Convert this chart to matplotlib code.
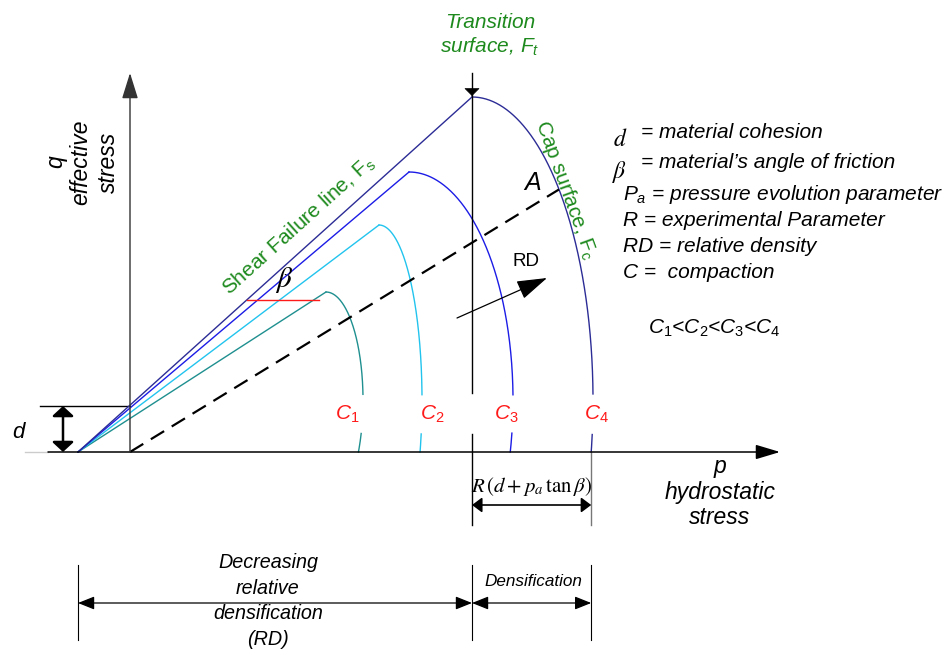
import numpy as np
import matplotlib.pyplot as plt

plt.rcParams['font.family'] = ['Liberation Sans', 'DejaVu Sans']
plt.rcParams['mathtext.fontset'] = 'custom'
plt.rcParams['mathtext.rm'] = 'Liberation Sans'
plt.rcParams['mathtext.it'] = 'Liberation Sans:italic'

# Geometrie im p-q System (Ursprung = Achsenkreuz)
shear_p0 = -52                      # Schnitt der Schergeraden mit p-Achse
cap_labels = ['$C_1$', '$C_2$', '$C_3$', '$C_4$']
apex_p = [196, 249, 279, 342]       # Übergang Scherlinie -> Kappe
apex_q = [160, 227, 280, 355]
cap_a = [37, 43, 104, 121]          # horizontale Halbachse der Kappe
cap_center_q = 52
cap_colors = ['#1f8f8f', '#22c4ee', '#1c1ce6', '#2c2c96']
cap_label_p = [217, 302, 376, 466]
gap_q = (19, 57)                    # Lücke für die C-Beschriftung
d_cohesion = 46
dash_slope = 0.612
q_axis_top = 379
p_axis_end = 650
dim_q = -53
bottom_q = (-113, -188)
bottom_arrow_q = -151

fig = plt.figure(figsize=(9.46, 6.53), dpi=100)
ax = fig.add_axes([0, 0, 1, 1])
ax.set_xlim(-130, 816)
ax.set_ylim(-201, 452)
ax.axis('off')

green = '#1e8a1e'
red = '#ff1a1a'


def arrow(xy, xytext, style, lw=1.0, color='black', ms=10):
    ax.annotate('', xy=xy, xytext=xytext,
                arrowprops=dict(arrowstyle=style, lw=lw, color=color,
                                mutation_scale=ms, shrinkA=0, shrinkB=0))


def gapped(p, q):
    p = np.asarray(p, float).copy()
    q = np.asarray(q, float).copy()
    m = (q > gap_q[0]) & (q < gap_q[1])
    p[m] = np.nan
    return p, q


# Achsen
ax.plot([-105, -82], [0, 0], color='#cccccc', lw=1)
arrow((p_axis_end, 0), (-82, 0), '-|>,head_length=1.5,head_width=0.45', lw=1.1)
arrow((0, q_axis_top), (0, 0), '-|>,head_length=1.6,head_width=0.5', lw=1.0, color='#333333')

# Kohäsion d
ax.plot([-90, 0], [d_cohesion, d_cohesion], color='black', lw=1)
arrow((-67, d_cohesion), (-67, 0), '<|-|>,head_length=0.6,head_width=0.65', lw=1.8)
ax.text(-112, 19, 'd', fontsize=16, style='italic', ha='center', va='center')

# Scherlinien und Kappen
bottom_p = []
for i in range(4):
    ax.plot([shear_p0, apex_p[i]], [0, apex_q[i]], color=cap_colors[i], lw=1.0)
    b = apex_q[i] - cap_center_q
    t = np.linspace(np.pi / 2, np.arcsin(-cap_center_q / b), 300)
    pp = apex_p[i] + cap_a[i] * np.cos(t)
    qq = cap_center_q + b * np.sin(t)
    pp, qq = gapped(pp, qq)
    ax.plot(pp, qq, color=cap_colors[i], lw=1.0)
    bottom_p.append(apex_p[i] + cap_a[i] * np.cos(t[-1]))
    ax.text(cap_label_p[i], 38, cap_labels[i], color=red, fontsize=15,
            ha='center', va='center')

# Übergangsfläche (vertikale Linie)
tp, tq = gapped(np.full(200, apex_p[3]), np.linspace(q_axis_top, -73, 200))
ax.plot(tp, tq, color='black', lw=1.0)
arrow((apex_p[3], apex_q[3] + 1), (apex_p[3], apex_q[3] + 8),
      '-|>,head_length=0.5,head_width=0.5', lw=0.5)
ax.plot([bottom_p[3], bottom_p[3]], [0, -73], color='#777777', lw=1.0)

# gestrichelte Linie bis zur C4-Kappe
b4 = apex_q[3] - cap_center_q
coef = [1 / cap_a[3] ** 2 + dash_slope ** 2 / b4 ** 2,
        -2 * apex_p[3] / cap_a[3] ** 2 - 2 * dash_slope * cap_center_q / b4 ** 2,
        apex_p[3] ** 2 / cap_a[3] ** 2 + cap_center_q ** 2 / b4 ** 2 - 1]
s_end = max(np.roots(coef).real)
ax.plot([0, s_end], [0, dash_slope * s_end], color='black', lw=1.6, dashes=(7, 4))
ax.text(403, 269, 'A', fontsize=18, style='italic', ha='center', va='center')

# RD Pfeil
arrow((417, 174), (327, 134), '-|>,head_length=1.9,head_width=0.6', lw=0.9)
ax.text(396, 190, 'RD', fontsize=13.5, ha='center', va='center')

# Winkel beta
ax.plot([117, 189], [152, 152], color=red, lw=1.0)
ax.text(154, 172, r'$\beta$', fontsize=21, ha='center', va='center',
        math_fontfamily='stix')

# Beschriftungen grün
ax.text(169, 226, r'Shear Failure line, $\mathrm{F_s}$', color=green, fontsize=15,
        rotation=42, rotation_mode='anchor', ha='center', va='center')
ax.text(436, 262, r'Cap surface, $\mathrm{F_c}$', color=green, fontsize=15,
        rotation=-70, rotation_mode='anchor', ha='center', va='center')
ax.text(360, 430, 'Transition', color=green, fontsize=15, style='italic',
        ha='center', va='center')
ax.text(360, 405, 'surface, $F_t$', color=green, fontsize=15, style='italic',
        ha='center', va='center')

# Achsentitel
for x, s in zip([-74, -49, -22], ['q', 'effective', 'stress']):
    ax.text(x, 290, s, fontsize=16.5, style='italic', rotation=90,
            ha='center', va='center')
for y, s in zip([-15, -40, -65], ['p', 'hydrostatic', 'stress']):
    ax.text(590, y, s, fontsize=16.5, style='italic', ha='center', va='center')

# Bemaßung R(d + pa tan beta)
arrow((bottom_p[3], dim_q), (apex_p[3], dim_q), '<|-|>,head_length=0.6,head_width=0.45', lw=1.2)
ax.text((apex_p[3] + bottom_p[3]) / 2, -35, r'$R\,(d+p_a\,\tan\beta)$', fontsize=15,
        ha='center', va='center', math_fontfamily='stix')

# Legende rechts
ax.text(490, 312, '$d$', fontsize=17, math_fontfamily='stix', ha='center', va='center')
ax.text(511, 320, '= material cohesion', fontsize=15, style='italic', va='center')
ax.text(490, 280, r'$\beta$', fontsize=17, math_fontfamily='stix', ha='center', va='center')
ax.text(511, 290, '= material\u2019s angle of friction', fontsize=15, style='italic', va='center')
ax.text(493, 257, '$P_a$ = pressure evolution parameter', fontsize=15, style='italic', va='center')
ax.text(493, 231, 'R = experimental Parameter', fontsize=15, style='italic', va='center')
ax.text(493, 205, 'RD = relative density', fontsize=15, style='italic', va='center')
ax.text(493, 179, 'C =  compaction', fontsize=15, style='italic', va='center')
ax.text(518, 124, '$C_1$<$C_2$<$C_3$<$C_4$', fontsize=15, style='italic', va='center')

# untere Bemaßung
for p in [shear_p0, apex_p[3], bottom_p[3]]:
    ax.plot([p, p], bottom_q, color='black', lw=0.8)
arrow((apex_p[3], bottom_arrow_q), (shear_p0, bottom_arrow_q),
      '<|-|>,head_length=1.0,head_width=0.4', lw=0.9)
arrow((bottom_p[3], bottom_arrow_q), (apex_p[3], bottom_arrow_q),
      '<|-|>,head_length=1.0,head_width=0.4', lw=0.9)
ax.text(138, -149, 'Decreasing\nrelative\ndensification\n(RD)', fontsize=14.2,
        style='italic', ha='center', va='center', linespacing=1.45)
ax.text(403, -130, 'Densification', fontsize=12.3, style='italic', ha='center', va='center')

fig.savefig('out.png', dpi=100)
